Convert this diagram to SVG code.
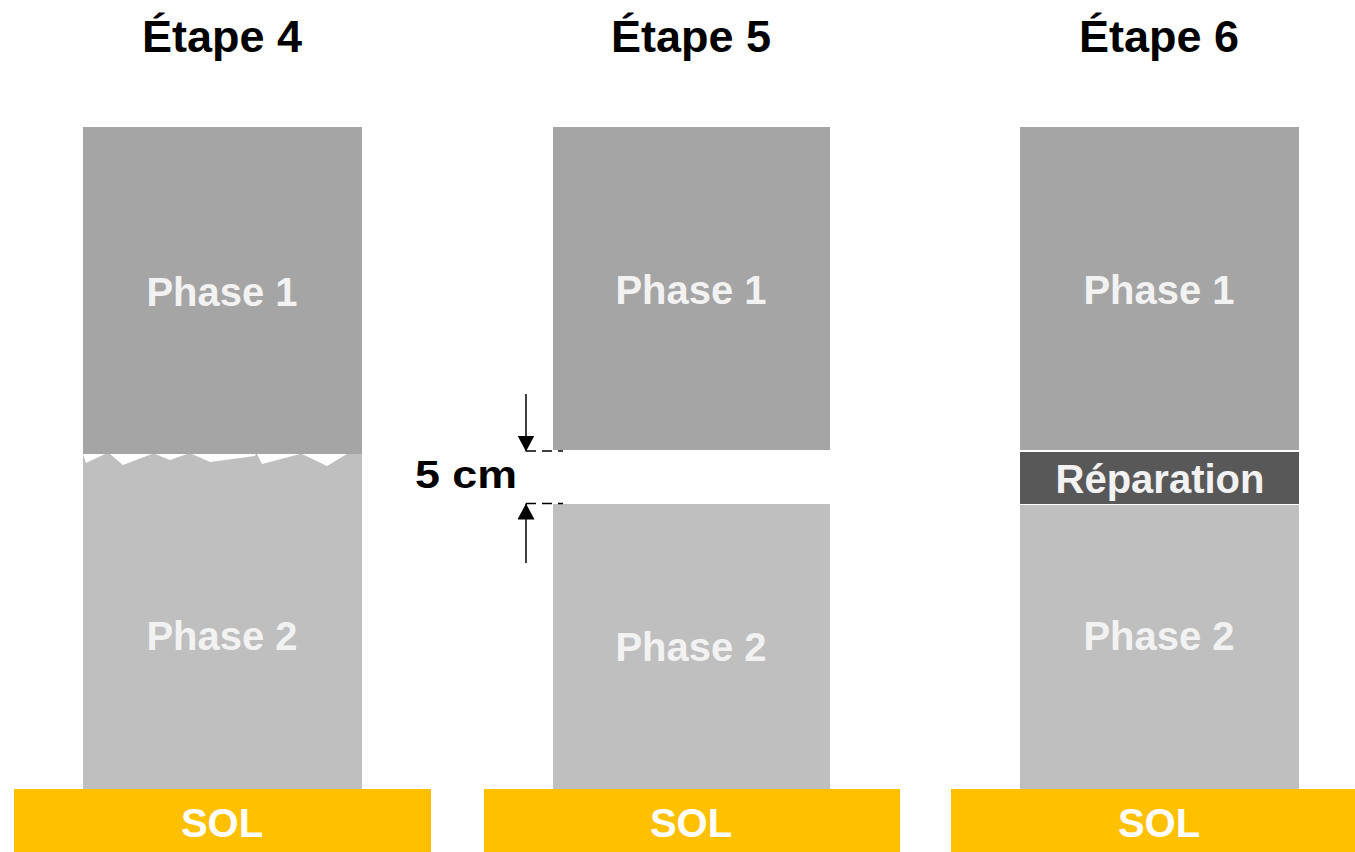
<svg xmlns="http://www.w3.org/2000/svg" width="1355" height="852" viewBox="0 0 1355 852">
  <style>
    .title { font-family: "Liberation Sans", Arial, sans-serif; font-weight: bold; font-size: 45px; fill: #000; text-anchor: middle; }
    .lbl { font-family: "Liberation Sans", Arial, sans-serif; font-weight: bold; font-size: 40px; fill: #f2f2f2; text-anchor: middle; }
    .sol-lbl { font-family: "Liberation Sans", Arial, sans-serif; font-weight: bold; font-size: 40px; fill: #ffffff; text-anchor: middle; }
    .dim { font-family: "Liberation Sans", Arial, sans-serif; font-weight: bold; font-size: 38px; fill: #000; }
    .p1 { fill: #a5a5a5; }
    .p2 { fill: #bfbfbf; }
    .rep { fill: #585858; }
    .sol { fill: #ffc000; }
    .crack { fill: #ffffff; }
    .arrow { stroke: #000; stroke-width: 1.5; fill: none; }
    .guide { stroke: #000; stroke-width: 1.5; stroke-dasharray: 10 6; fill: none; }
  </style>
  <defs>
    <marker id="head" markerWidth="16" markerHeight="17" refX="16" refY="8.5" orient="auto" markerUnits="userSpaceOnUse" viewBox="0 0 16 17">
      <path d="M0,0 L16,8.5 L0,17 Z" fill="#000"/>
    </marker>
  </defs>

  <rect width="1355" height="852" fill="#ffffff"/>

  <!-- Stage 4: cracked column -->
  <g id="etape4">
    <text class="title" x="222" y="52">Étape 4</text>
    <rect class="p1" x="83" y="127" width="279" height="327"/>
    <rect class="p2" x="83" y="454" width="279" height="336"/>
    <g id="fissure">
      <polygon class="crack" points="83,454 105,454 86,463"/>
      <polygon class="crack" points="110,454 152,454 123,465"/>
      <polygon class="crack" points="155,454 187,454 170,460"/>
      <polygon class="crack" points="192,454 256,454 255,456 210,462"/>
      <polygon class="crack" points="257,454 300,454 262,464"/>
      <polygon class="crack" points="302,454 347,454 327,466"/>
    </g>
    <text class="lbl" x="222" y="306">Phase 1</text>
    <text class="lbl" x="222" y="650">Phase 2</text>
    <g id="sol4">
      <rect class="sol" x="14" y="789" width="417" height="63"/>
      <text class="sol-lbl" x="222" y="837">SOL</text>
    </g>
  </g>

  <!-- Stage 5: 5 cm gap cut out -->
  <g id="etape5">
    <text class="title" x="691" y="52">Étape 5</text>
    <rect class="p1" x="553" y="127" width="277" height="323"/>
    <rect class="p2" x="553" y="504" width="277" height="286"/>
    <text class="lbl" x="691" y="304">Phase 1</text>
    <text class="lbl" x="691" y="661">Phase 2</text>
    <g id="sol5">
      <rect class="sol" x="484" y="789" width="416" height="63"/>
      <text class="sol-lbl" x="691" y="837">SOL</text>
    </g>
  </g>

  <!-- Stage 6: repair layer -->
  <g id="etape6">
    <text class="title" x="1159" y="52">Étape 6</text>
    <rect class="p1" x="1020" y="127" width="279" height="323"/>
    <rect class="rep" x="1020" y="452" width="279" height="52"/>
    <rect class="p2" x="1020" y="505" width="279" height="285"/>
    <text class="lbl" x="1159" y="304">Phase 1</text>
    <text class="lbl" x="1160" y="493">Réparation</text>
    <text class="lbl" x="1159" y="650">Phase 2</text>
    <g id="sol6">
      <rect class="sol" x="951" y="789" width="404" height="63"/>
      <text class="sol-lbl" x="1159" y="837">SOL</text>
    </g>
  </g>

  <!-- Gap dimension -->
  <g id="connectors">
    <line class="guide" x1="526" y1="451" x2="563" y2="451"/>
    <line class="guide" x1="526" y1="503.5" x2="563" y2="503.5"/>
    <line class="arrow" x1="526" y1="394" x2="526" y2="451.5" marker-end="url(#head)"/>
    <line class="arrow" x1="526" y1="563" x2="526" y2="503.5" marker-end="url(#head)"/>
    <text class="dim" x="415" y="488" textLength="102" lengthAdjust="spacingAndGlyphs">5 cm</text>
  </g>
</svg>
